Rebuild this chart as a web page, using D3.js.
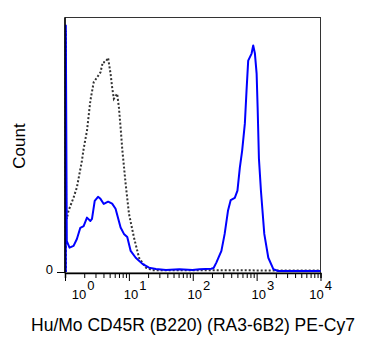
<!DOCTYPE html>
<html><head><meta charset="utf-8">
<script src="https://cdn.jsdelivr.net/npm/d3@7"></script>
<style>body{margin:0;background:#fff}svg{display:block}text{font-family:"Liberation Sans",Arial,sans-serif;fill:#000}</style>
</head><body><svg id="c" width="368" height="353"></svg>
<script>
// Stained sample (solid blue)
const stainedX = [1.03,1.03,1.067,1.178,1.362,1.535,1.737,1.958,2.208,2.497,2.646,2.919,3.29,3.591,4.047,4.73,5.47,6.19,7.42,8.37,9.43,10.67,12.8,16.3,20.7,26.5,38.1,61.7,98.9,127.6,195,212,234,281,316,356,393,455,501,546,593,654,695,738,834,884,940,1000,1037,1087,1169,1318,1524,1827,2168,10000];
const stainedY = [0,97,12.2,9.6,10.3,13.0,17.4,18.1,21.4,20.1,20.9,28.0,29.6,28.8,26.8,27.7,26.9,24.9,17.5,15.0,13.8,8.3,5.6,3.2,1.7,1.2,0.8,1.1,0.8,1.1,1.3,1.6,3.7,8.3,15.0,24.1,28.3,29.2,32.0,41.1,47.7,58.4,71.4,83.2,86.0,89.2,86.0,78.1,64.8,44.6,31.9,15.0,5.6,1.1,0.4,0.4];
// Isotype control (dotted)
const controlX = [1.03,1.03,1.04,1.067,1.135,1.362,1.535,1.84,1.958,2.208,2.497,2.815,3.174,3.591,3.904,4.306,4.73,5.165,5.47,5.82,6.56,6.98,7.42,7.87,8.9,10.04,12.03,14.43,18.41,23.4,10000];
const controlY = [0,95,22,20.9,24.1,29.3,33.3,43.8,48.5,55.6,67.5,74.7,76.6,78.6,82.6,82.6,84.3,78.1,72.7,68.2,70.2,64.8,56.9,48.5,34.7,22.9,13.5,5.6,1.7,0.7,0.6];
const decadeTicks = [1,10,100,1000,10000];
const decadeExp = ["0","1","2","3","4"];
const yTicks = [0];
const xTitle = "Hu/Mo CD45R (B220) (RA3-6B2) PE-Cy7";
const yTitle = "Count";

const svg = d3.select("#c");
const L = 65, R = 320.5, T = 17.5, B = 273;
const x = d3.scaleLog().domain([1,10000]).range([L,R]);
const y = d3.scaleLinear().domain([0,100]).range([272,18]);

// frame
svg.append("rect").attr("x",L).attr("y",T).attr("width",R-L).attr("height",B-T)
  .attr("fill","none").attr("stroke","#333").attr("stroke-width",1);

const line = d3.line().x(d=>x(d[0])).y(d=>y(d[1])).curve(d3.curveLinear);
svg.append("path").datum(d3.zip(controlX,controlY)).attr("d",line)
  .attr("fill","none").attr("stroke","#333").attr("stroke-width",2).attr("stroke-dasharray","2 2");
svg.append("path").datum(d3.zip(stainedX,stainedY)).attr("d",line)
  .attr("fill","none").attr("stroke","#0000ff").attr("stroke-width",2).attr("stroke-linejoin","round");

// x axis
const minor = [];
decadeTicks.slice(0,-1).forEach(d=>{for(let k=2;k<10;k++) minor.push(d*k);});
const gx = svg.append("g").attr("transform",`translate(0,${B})`);
gx.call(d3.axisBottom(x).tickValues(decadeTicks).tickSize(8).tickFormat(""));
gx.append("g").call(d3.axisBottom(x).tickValues(minor).tickSize(5).tickFormat(""));
gx.selectAll(".domain").attr("stroke","#000").attr("stroke-width",1.5);
gx.selectAll("line").attr("stroke","#000");
gx.select("g .domain").remove();

decadeTicks.forEach((d,i)=>{
  let cx = x(d) + 2;
  if(i===0) cx = x(d) + 14;
  if(i===decadeTicks.length-1) cx = x(d) - 4;
  const t = svg.append("text").attr("x",cx-7.2).attr("y",298.5).attr("font-size",13);
  t.append("tspan").text("10");
  t.append("tspan").attr("dy",-9).attr("dx",1).text(decadeExp[i]);
});

// y axis
const gy = svg.append("g").attr("transform",`translate(${L},0)`);
gy.call(d3.axisLeft(y).tickValues(yTicks).tickSize(8).tickPadding(4).tickFormat(d3.format("d")));
gy.select(".domain").remove();
gy.selectAll("line").attr("stroke","#000");
gy.selectAll("text").attr("font-size",13).attr("dy","0.1em").style("font-family","'Liberation Sans',Arial,sans-serif");
svg.append("line").attr("x1",L).attr("x2",L).attr("y1",T).attr("y2",B).attr("stroke","#000").attr("stroke-width",1.5);

svg.append("text").attr("x",193).attr("y",331).attr("text-anchor","middle").attr("font-size",17.5).text(xTitle);
svg.append("text").attr("transform","translate(25,146) rotate(-90)").attr("text-anchor","middle").attr("font-size",17).text(yTitle);
</script></body></html>
